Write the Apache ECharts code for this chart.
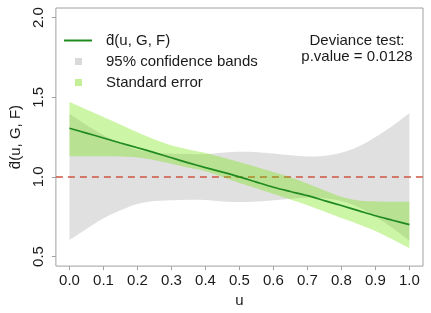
<!DOCTYPE html>
<html>
<head>
<meta charset="utf-8">
<script src="https://cdn.jsdelivr.net/npm/echarts@6/dist/echarts.min.js"></script>
<style>
html,body{margin:0;padding:0;background:#ffffff;}
#chart{width:431px;height:313px;}
</style>
</head>
<body>
<div id="chart"></div>
<script>
// ---- data ----
const u        = [0, 0.05, 0.1, 0.15, 0.2, 0.25, 0.3, 0.35, 0.4, 0.45, 0.5, 0.55, 0.6, 0.65, 0.7, 0.75, 0.8, 0.85, 0.9, 0.95, 1.0];
const fit      = [1.305, 1.275, 1.244, 1.213, 1.183, 1.152, 1.12, 1.088, 1.058, 1.03, 1.0, 0.967, 0.935, 0.908, 0.882, 0.851, 0.82, 0.788, 0.756, 0.728, 0.70];
const ciUpper  = [1.396, 1.325, 1.262, 1.21, 1.17, 1.152, 1.146, 1.143, 1.143, 1.152, 1.158, 1.155, 1.146, 1.136, 1.128, 1.132, 1.152, 1.19, 1.25, 1.32, 1.40];
const ciLower  = [0.604, 0.673, 0.74, 0.79, 0.83, 0.848, 0.853, 0.856, 0.855, 0.846, 0.842, 0.845, 0.853, 0.862, 0.87, 0.866, 0.848, 0.81, 0.75, 0.68, 0.60];
const seUpper  = [1.47, 1.423, 1.376, 1.328, 1.28, 1.235, 1.198, 1.172, 1.15, 1.122, 1.093, 1.062, 1.03, 0.998, 0.958, 0.915, 0.875, 0.852, 0.846, 0.844, 0.844];
const seLower  = [1.13, 1.13, 1.13, 1.128, 1.122, 1.105, 1.082, 1.058, 1.035, 1.0, 0.962, 0.928, 0.893, 0.858, 0.822, 0.782, 0.742, 0.703, 0.66, 0.608, 0.553];
const refLevel = 1.0;
const xTicks   = [0, 0.1, 0.2, 0.3, 0.4, 0.5, 0.6, 0.7, 0.8, 0.9, 1.0];
const yTicks   = [0.5, 1.0, 1.5, 2.0];
const xRange   = [-0.04, 1.04];
const yRange   = [0.44, 2.06];
const fitName  = 'd\u0302(u, G, F)';
const ciName   = '95% confidence bands';
const seName   = 'Standard error';
const xTitle   = 'u';
const yTitle   = 'd\u0302(u, G, F)';
const noteLines = ['Deviance test:', 'p.value = 0.0128'];

// ---- chart ----
const FONT = '"Liberation Sans", Arial, Helvetica, sans-serif';
const TXT = '#1a1a1a';
const AX = '#a0a0a0';
const GRAY = '#e0e0e0';
const GREEN = 'rgba(112,226,0,0.35)';
const LINE = '#1f8b1f';

// Catmull-Rom sampling of pixel points (smooth boundary)
function spline(pts, steps) {
  const out = [];
  for (let i = 0; i < pts.length - 1; i++) {
    const p0 = pts[Math.max(i - 1, 0)], p1 = pts[i], p2 = pts[i + 1], p3 = pts[Math.min(i + 2, pts.length - 1)];
    for (let s = 0; s < steps; s++) {
      const t = s / steps, t2 = t * t, t3 = t2 * t;
      const f = k => 0.5 * ((2 * p1[k]) + (-p0[k] + p2[k]) * t + (2 * p0[k] - 5 * p1[k] + 4 * p2[k] - p3[k]) * t2 + (-p0[k] + 3 * p1[k] - 3 * p2[k] + p3[k]) * t3);
      out.push([f(0), f(1)]);
    }
  }
  out.push(pts[pts.length - 1]);
  return out;
}

function bandRender(lo, hi, color) {
  return function (params, api) {
    if (params.dataIndex !== 0) return null;
    const top = spline(u.map((x, i) => api.coord([x, hi[i]])), 8);
    const bot = spline(u.map((x, i) => api.coord([x, lo[i]])), 8).reverse();
    return {type: 'polygon', shape: {points: top.concat(bot)}, style: {fill: color, stroke: null}};
  };
}

const bandData = (lo, hi) => u.map((x, i) => [x, lo[i], hi[i]]);

const chart = echarts.init(document.getElementById('chart'), null, {renderer: 'canvas'});
chart.setOption({
  animation: false,
  backgroundColor: '#ffffff',
  textStyle: {fontFamily: FONT},
  grid: {left: 47, right: 8, top: 8, bottom: 40, show: true, borderColor: AX, borderWidth: 1, backgroundColor: 'transparent'},
  xAxis: {
    type: 'value', min: xRange[0], max: xRange[1],
    axisLine: {show: false, onZero: false},
    axisTick: {show: true, customValues: xTicks, length: 4, lineStyle: {color: AX}},
    axisLabel: {customValues: xTicks, formatter: v => v.toFixed(1), fontSize: 15, color: TXT, margin: 7, fontFamily: FONT},
    splitLine: {show: false},
    name: xTitle, nameLocation: 'middle', nameGap: 25,
    nameTextStyle: {fontSize: 15, color: TXT, fontFamily: FONT}
  },
  yAxis: {
    type: 'value', min: yRange[0], max: yRange[1],
    axisLine: {show: false, onZero: false},
    axisTick: {show: true, customValues: yTicks, length: 4, lineStyle: {color: AX}},
    axisLabel: {customValues: yTicks, formatter: v => v.toFixed(1), fontSize: 15, color: TXT, margin: 10, rotate: 90, fontFamily: FONT},
    splitLine: {show: false},
    name: yTitle, nameLocation: 'middle', nameGap: 28, nameRotate: 90,
    nameTextStyle: {fontSize: 15, color: TXT, fontFamily: FONT}
  },
  legend: [
    {
      data: [{name: fitName, icon: 'rect', itemStyle: {color: LINE}}],
      left: 64, top: 33, padding: 0, itemWidth: 28, itemHeight: 2,
      selectedMode: false,
      textStyle: {fontSize: 15, color: TXT, fontFamily: FONT, padding: [0, 0, 0, 9]}
    },
    {
      data: [
        {name: ciName, icon: 'rect', itemStyle: {color: '#d9d9d9'}},
        {name: seName, icon: 'rect', itemStyle: {color: '#c4ef96'}}
      ],
      orient: 'vertical', left: 75, top: 54, padding: 0, itemWidth: 7, itemHeight: 7, itemGap: 6,
      selectedMode: false,
      textStyle: {fontSize: 15, color: TXT, fontFamily: FONT, padding: [0, 0, 0, 19]}
    }
  ],
  graphic: noteLines.map((t, i) => ({
    type: 'text', x: 357, y: 41 + i * 16, z: 100,
    style: {text: t, fill: TXT, font: '15px ' + FONT, textAlign: 'center', textVerticalAlign: 'middle'}
  })),
  series: [
    {
      name: ciName, type: 'custom', data: bandData(ciLower, ciUpper),
      renderItem: bandRender(ciLower, ciUpper, GRAY),
      encode: {x: 0, y: [1, 2]}, itemStyle: {color: '#d9d9d9'}, silent: true, z: 2,
      markLine: {
        silent: true, symbol: 'none', label: {show: false},
        lineStyle: {color: '#cd5540', type: [7, 5], width: 1.6},
        data: [{yAxis: refLevel}]
      }
    },
    {
      name: seName, type: 'custom', data: bandData(seLower, seUpper),
      renderItem: bandRender(seLower, seUpper, GREEN),
      encode: {x: 0, y: [1, 2]}, itemStyle: {color: '#c4ef96'}, silent: true, z: 10
    },
    {
      name: fitName, type: 'line', data: u.map((x, i) => [x, fit[i]]), smooth: 0.3,
      symbol: 'none', lineStyle: {color: LINE, width: 1.7}, itemStyle: {color: LINE}, z: 12
    }
  ]
});
</script>
</body>
</html>
